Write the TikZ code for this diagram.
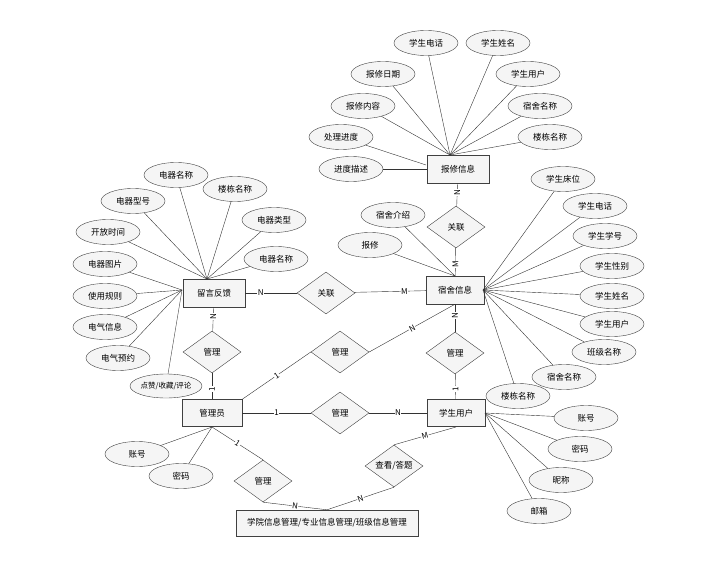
\documentclass[tikz,border=0pt]{standalone}
\usepackage{fontspec}
\setmainfont{Noto Sans CJK SC}
\usetikzlibrary{shapes.geometric}
\begin{document}
\begin{tikzpicture}[x=1pt,y=-1pt,font=\fontsize{8.5}{10}\selectfont,
  ent/.style={draw=gray!50!black,fill=gray!8,minimum width=62pt,minimum height=28pt,inner sep=1pt},
  attr/.style={ellipse,draw=gray!50!black,fill=gray!8,minimum width=64pt,minimum height=25pt,inner sep=0pt},
  rel/.style={diamond,draw=gray!50!black,fill=gray!8,minimum width=58pt,minimum height=42pt,inner sep=0pt,aspect=1.4},
  ln/.style={draw=gray!40!black},
  lab/.style={fill=white,inner sep=0.5pt,font=\fontsize{8}{9}\selectfont}]
\useasboundingbox (0,0) rectangle (728,564);
% entities
\node[ent] (bx) at (458,169) {报修信息};
\node[ent,minimum width=58pt] (ss) at (455,290) {宿舍信息};
\node[ent] (ly) at (214,293) {留言反馈};
\node[ent,minimum width=60pt,minimum height=27pt] (gl) at (212,413) {管理员};
\node[ent,minimum width=58pt,minimum height=27pt] (xs) at (456,413) {学生用户};
\node[ent,minimum width=182pt,minimum height=26pt] (bt) at (327,523) {学院信息管理/专业信息管理/班级信息管理};
% relations
\node[rel] (r1) at (456,227) {关联};
\node[rel] (r2) at (326,293) {关联};
\node[rel] (r3) at (212,352) {管理};
\node[rel] (r4) at (340,352) {管理};
\node[rel] (r5) at (455,353) {管理};
\node[rel] (r6) at (340,413) {管理};
\node[rel] (r7) at (394,466) {查看/答题};
\node[rel] (r8) at (263,481) {管理};
% attributes of 报修信息
\coordinate (bxt) at (450,155);
\coordinate (bxw) at (426,165);
\foreach \n/\t/\x/\y in {a1/学生电话/426/43,a2/学生姓名/498/43,a3/报修日期/383/74,a4/学生用户/528/74,a5/报修内容/363/106,a6/宿舍名称/540/106,a7/楼栋名称/550/137}{
  \node[attr] (\n) at (\x,\y) {\t};
  \draw[ln] (\n) -- (bxt);}
\node[attr] (a8) at (341,137) {处理进度};
\draw[ln] (a8) -- (bxw);
\node[attr] (a9) at (351,169) {进度描述};
\draw[ln] (a9) -- (bx);
% attributes of 留言反馈
\coordinate (lyt) at (207,279);
\coordinate (lyw) at (182,290);
\foreach \n/\t/\x/\y in {b1/电器名称/176/175,b2/电器型号/133/201,b3/楼栋名称/235/189,b4/开放时间/108/232,b5/电器类型/274/220,b6/电器名称/276/259}{
  \node[attr] (\n) at (\x,\y) {\t};
  \draw[ln] (\n) -- (lyt);}
\foreach \n/\t/\x/\y in {b7/电器图片/105/264,b8/使用规则/105/296,b9/电气信息/105/327,b10/电气预约/118/358}{
  \node[attr] (\n) at (\x,\y) {\t};
  \draw[ln] (\n) -- (lyw);}
\node[attr,minimum width=66pt,minimum height=24pt,font=\fontsize{7.5}{9}\selectfont] (b11) at (166,386) {点赞/收藏/评论};
\draw[ln] (b11) -- (lyw);
% attributes of 宿舍信息
\coordinate (sst) at (455,276);
\coordinate (sse) at (483,290);
\node[attr] (c1) at (393,215) {宿舍介绍};
\draw[ln] (c1) -- (sst);
\node[attr] (c2) at (370,245) {报修};
\draw[ln] (c2) -- (sst);
\foreach \n/\t/\x/\y in {d1/学生床位/563/179,d2/学生电话/595/206,d3/学生学号/605/236,d4/学生性别/612/266,d5/学生姓名/612/296,d6/学生用户/612/324,d7/班级名称/604/352,d8/宿舍名称/564/377,d9/楼栋名称/518/396}{
  \node[attr] (\n) at (\x,\y) {\t};
  \draw[ln] (\n) -- (sse);}
% attributes of 管理员
\coordinate (glb) at (212,427);
\node[attr] (e1) at (137,454) {账号};
\node[attr] (e2) at (181,476) {密码};
\draw[ln] (e1) -- (glb);
\draw[ln] (e2) -- (glb);
% attributes of 学生用户
\coordinate (xse) at (485,413);
\foreach \n/\t/\x/\y in {f1/账号/586/418,f2/密码/580/449,f3/昵称/561/480,f4/邮箱/539/511}{
  \node[attr] (\n) at (\x,\y) {\t};
  \draw[ln] (\n) -- (xse);}
% relationship lines
\draw[ln] (bx) -- node[lab,pos=0.4,rotate=90]{N} (r1);
\draw[ln] (r1) -- node[lab,pos=0.6,rotate=90]{M} (ss);
\draw[ln] (ly) -- node[lab,pos=0.3]{N} (r2);
\draw[ln] (r2) -- node[lab,pos=0.7]{M} (ss);
\draw[ln] (ly) -- node[lab,pos=0.4,rotate=90]{N} (r3);
\draw[ln] (r3) -- node[lab,pos=0.6,rotate=90]{1} (gl);
\draw[ln] (gl.north east) -- node[lab,sloped]{1} (r4.west);
\draw[ln] (r4.east) -- node[lab,sloped]{N} (ss.south);
\draw[ln] (ss) -- node[lab,pos=0.4,rotate=90]{N} (r5);
\draw[ln] (r5) -- node[lab,pos=0.6,rotate=90]{1} (xs);
\draw[ln] (gl) -- node[lab]{1} (r6);
\draw[ln] (r6) -- node[lab]{N} (xs);
\coordinate (gls) at (212,427);
\draw[ln] (gls) -- node[lab,sloped,pos=0.5]{1} (r8.north);
\draw[ln] (r8.south) -- node[lab,sloped]{N} (bt.north);
\coordinate (xsb) at (456,427);
\draw[ln] (xsb) -- node[lab,sloped]{M} (r7.north);
\draw[ln] (r7.south) -- node[lab,sloped]{N} (bt.north);
\end{tikzpicture}
\end{document}
